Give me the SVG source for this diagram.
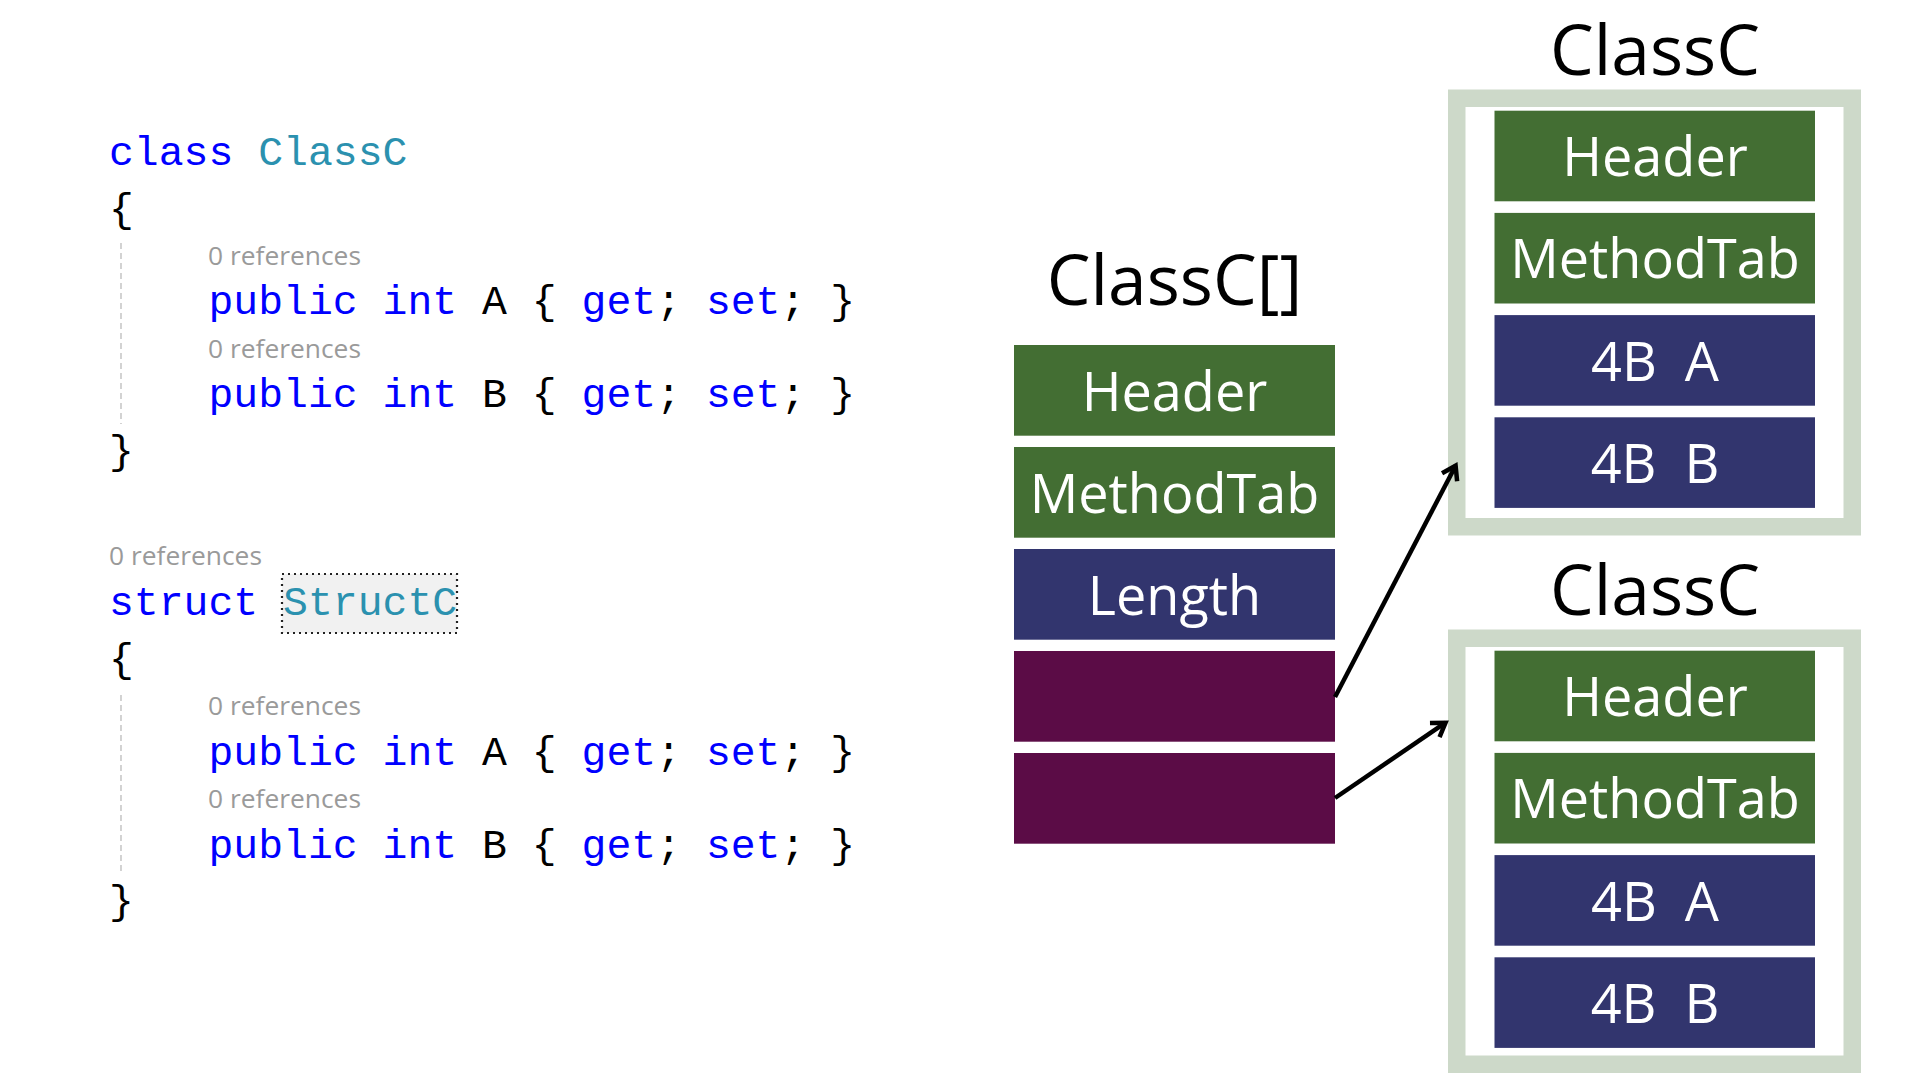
<svg xmlns="http://www.w3.org/2000/svg" width="1920" height="1080" viewBox="0 0 1920 1080">
  <defs>
    <style>
      .code { font-family: "Liberation Mono", "DejaVu Sans Mono", monospace; font-size: 41.45px; fill: #000000; white-space: pre; }
      .kw { fill: #0000FF; }
      .ty { fill: #2B91AF; }
      .ref { font-family: "Open Sans", "Noto Sans", sans-serif; font-size: 25px; fill: #9A9A9A; }
      .guide { stroke: #C8C8C8; stroke-width: 1.6; stroke-dasharray: 6 4; fill: none; }
      .title { font-family: "Open Sans", "Noto Sans", sans-serif; font-size: 69.5px; fill: #000000; text-anchor: middle; }
      .lbl { font-family: "Open Sans", "Noto Sans", sans-serif; font-size: 54px; fill: #FFFFFF; text-anchor: middle; white-space: pre; }
      .green { fill: #436E33; }
      .navy { fill: #32356E; }
      .purple { fill: #5B0C46; }
      .frame { fill: #FFFFFF; stroke: #CDD9C9; stroke-width: 17.5; }
      .conn { stroke: #000000; stroke-width: 4.5; fill: none; marker-end: url(#arrow); }
    </style>
    <marker id="arrow" markerUnits="userSpaceOnUse" markerWidth="40" markerHeight="40" viewBox="-20 -20 40 40" refX="0" refY="0" orient="auto" overflow="visible">
      <path d="M-13,-8.5 L0,0 L-13,8.5" fill="none" stroke="#000000" stroke-width="4.5" stroke-linejoin="miter"/>
    </marker>
  </defs>
  <rect x="0" y="0" width="1920" height="1080" fill="#FFFFFF"/>

  <!-- Code: class ClassC -->
  <g id="code-class">
    <text class="code" x="109" y="165" xml:space="preserve"><tspan class="kw">class</tspan> <tspan class="ty">ClassC</tspan></text>
    <text class="code" x="109" y="222">{</text>
    <line class="guide" x1="121" y1="243" x2="121" y2="424"/>
    <text class="ref" x="208" y="265" textLength="153" lengthAdjust="spacingAndGlyphs">0 references</text>
    <text class="code" x="208.5" y="314" xml:space="preserve"><tspan class="kw">public</tspan> <tspan class="kw">int</tspan> A { <tspan class="kw">get</tspan>; <tspan class="kw">set</tspan>; }</text>
    <text class="ref" x="208" y="358" textLength="153" lengthAdjust="spacingAndGlyphs">0 references</text>
    <text class="code" x="208.5" y="407" xml:space="preserve"><tspan class="kw">public</tspan> <tspan class="kw">int</tspan> B { <tspan class="kw">get</tspan>; <tspan class="kw">set</tspan>; }</text>
    <text class="code" x="109" y="464">}</text>
  </g>

  <!-- Code: struct StructC -->
  <g id="code-struct">
    <text class="ref" x="109" y="565" textLength="153" lengthAdjust="spacingAndGlyphs">0 references</text>
    <rect x="282" y="574" width="175" height="59" fill="#F1F1F1" stroke="#222222" stroke-width="2.2" stroke-dasharray="2 4"/>
    <text class="code" x="109" y="615" xml:space="preserve"><tspan class="kw">struct</tspan> <tspan class="ty">StructC</tspan></text>
    <text class="code" x="109" y="672">{</text>
    <line class="guide" x1="121" y1="695" x2="121" y2="873"/>
    <text class="ref" x="208" y="715" textLength="153" lengthAdjust="spacingAndGlyphs">0 references</text>
    <text class="code" x="208.5" y="765" xml:space="preserve"><tspan class="kw">public</tspan> <tspan class="kw">int</tspan> A { <tspan class="kw">get</tspan>; <tspan class="kw">set</tspan>; }</text>
    <text class="ref" x="208" y="808" textLength="153" lengthAdjust="spacingAndGlyphs">0 references</text>
    <text class="code" x="208.5" y="858" xml:space="preserve"><tspan class="kw">public</tspan> <tspan class="kw">int</tspan> B { <tspan class="kw">get</tspan>; <tspan class="kw">set</tspan>; }</text>
    <text class="code" x="109" y="914">}</text>
  </g>

  <!-- Array ClassC[] -->
  <g id="array">
    <text class="title" x="1174.5" y="305">ClassC[]</text>
    <g id="array-header">
      <rect class="green" x="1014" y="345" width="321" height="90.7"/>
      <text class="lbl" x="1174.5" y="410.5">Header</text>
    </g>
    <g id="array-methodtab">
      <rect class="green" x="1014" y="447" width="321" height="90.7"/>
      <text class="lbl" x="1174.5" y="512.5">MethodTab</text>
    </g>
    <g id="array-length">
      <rect class="navy" x="1014" y="549" width="321" height="90.7"/>
      <text class="lbl" x="1174.5" y="614.5">Length</text>
    </g>
    <g id="array-ref0">
      <rect class="purple" x="1014" y="651" width="321" height="90.7"/>
    </g>
    <g id="array-ref1">
      <rect class="purple" x="1014" y="753" width="321" height="90.7"/>
    </g>
  </g>

  <!-- Object 1 -->
  <g id="object1">
    <text class="title" x="1655" y="75">ClassC</text>
    <rect class="frame" x="1456.75" y="98.25" width="395.5" height="428.5"/>
    <rect class="green" x="1494.5" y="110.7" width="320.5" height="90.6"/>
    <text class="lbl" x="1655" y="176.2">Header</text>
    <rect class="green" x="1494.5" y="212.9" width="320.5" height="90.6"/>
    <text class="lbl" x="1655" y="278.4">MethodTab</text>
    <rect class="navy" x="1494.5" y="315.1" width="320.5" height="90.6"/>
    <text class="lbl" x="1655" y="380.6" xml:space="preserve">4B  A</text>
    <rect class="navy" x="1494.5" y="417.3" width="320.5" height="90.6"/>
    <text class="lbl" x="1655" y="482.8" xml:space="preserve">4B  B</text>
  </g>

  <!-- Object 2 -->
  <g id="object2">
    <text class="title" x="1655" y="615">ClassC</text>
    <rect class="frame" x="1456.75" y="638.25" width="395.5" height="426"/>
    <rect class="green" x="1494.5" y="650.7" width="320.5" height="90.6"/>
    <text class="lbl" x="1655" y="716.2">Header</text>
    <rect class="green" x="1494.5" y="752.9" width="320.5" height="90.6"/>
    <text class="lbl" x="1655" y="818.4">MethodTab</text>
    <rect class="navy" x="1494.5" y="855.1" width="320.5" height="90.6"/>
    <text class="lbl" x="1655" y="920.6" xml:space="preserve">4B  A</text>
    <rect class="navy" x="1494.5" y="957.3" width="320.5" height="90.6"/>
    <text class="lbl" x="1655" y="1022.8" xml:space="preserve">4B  B</text>
  </g>

  <!-- Connectors -->
  <g id="connectors">
    <line class="conn" x1="1335" y1="697" x2="1455.6" y2="465.7"/>
    <line class="conn" x1="1335" y1="798" x2="1445.5" y2="722.7"/>
  </g>
</svg>
